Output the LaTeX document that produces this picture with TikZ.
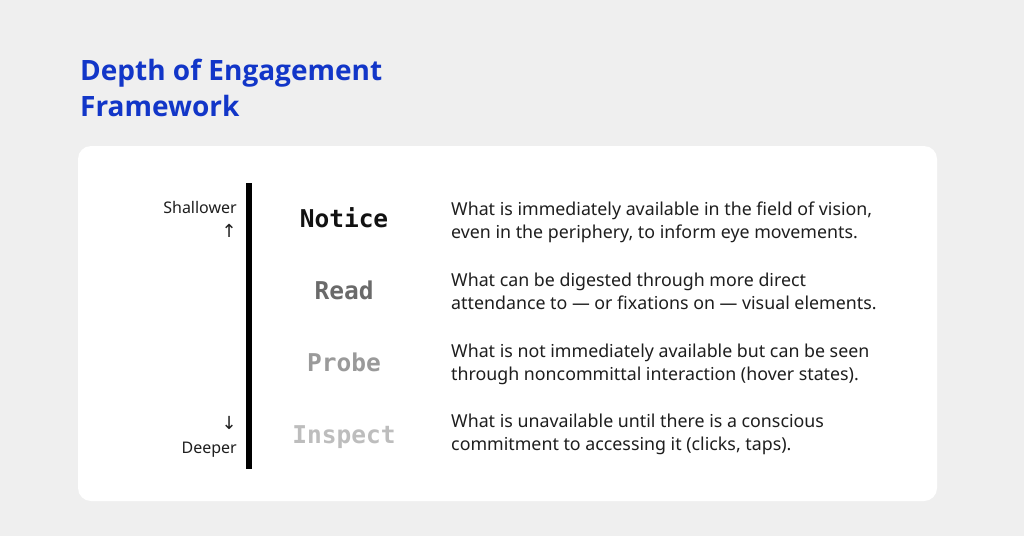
\documentclass[tikz,border=0pt]{standalone}
\usepackage{fontspec}
\setmainfont{Noto Sans}
\newfontfamily\titlefont{Open Sans}
\newfontfamily\monofont{DejaVu Sans Mono}
\newfontfamily\symfont{DejaVu Sans}
\definecolor{bgc}{HTML}{EFEFEF}
\definecolor{titleblue}{HTML}{1236C8}
\definecolor{txt}{HTML}{1E1E1E}
\definecolor{w1}{HTML}{111111}
\definecolor{w2}{HTML}{6A6A6A}
\definecolor{w3}{HTML}{9A9A9A}
\definecolor{w4}{HTML}{BDBDBD}
\tikzset{
  titletext/.style={anchor=base west, inner sep=0pt, text=titleblue, font=\titlefont\bfseries\fontsize{28}{37}\selectfont},
  level/.style={anchor=base, inner sep=0pt, font=\monofont\bfseries\fontsize{24.5}{28}\selectfont},
  desc/.style={anchor=base west, inner sep=0pt, text=txt, align=left, font=\fontsize{17.8}{23}\selectfont},
  side/.style={anchor=base east, inner sep=0pt, text=txt, font=\fontsize{16}{20}\selectfont},
  arr/.style={anchor=base east, inner sep=0pt, text=txt, font=\symfont\fontsize{18}{20}\selectfont},
}
\begin{document}
\begin{tikzpicture}[x=1pt,y=-1pt]
\useasboundingbox (0,0) rectangle (1024,536);
\fill[bgc] (0,0) rectangle (1024,536);
\fill[white, rounded corners=13pt] (78,146) rectangle (937,501);
\node[titletext] (t1) at (80,80) {Depth of Engagement};
\node[titletext] (t2) at (80,116) {Framework};
\fill[black] (246,183) rectangle (252,469);
\node[side] (sh) at (237,213) {Shallower};
\node[arr] (ua) at (237,237) {↑};
\node[arr] (da) at (237,429) {↓};
\node[side] (dp) at (237,453) {Deeper};
\node[level, text=w1] (n1) at (344,227) {Notice};
\node[level, text=w2] (n2) at (344,299) {Read};
\node[level, text=w3] (n3) at (344,371) {Probe};
\node[level, text=w4] (n4) at (344,443) {Inspect};
\node[desc] (d1) at (451,238) {What is immediately available in the field of vision,\\even in the periphery, to inform eye movements.};
\node[desc] (d2) at (451,309) {What can be digested through more direct\\attendance to — or fixations on — visual elements.};
\node[desc] (d3) at (451,380) {What is not immediately available but can be seen\\through noncommittal interaction (hover states).};
\node[desc] (d4) at (451,450) {What is unavailable until there is a conscious\\commitment to accessing it (clicks, taps).};
\end{tikzpicture}
\end{document}
